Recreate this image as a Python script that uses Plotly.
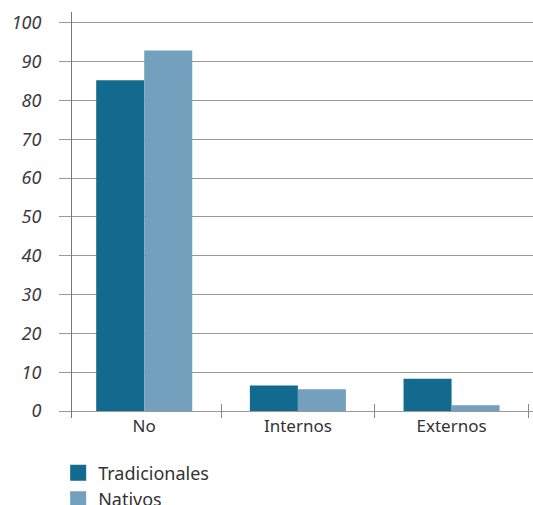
import plotly.graph_objects as go

categories = ["No", "Internos", "Externos"]
series_names = ["Tradicionales", "Nativos"]
tradicionales = [85.2, 6.6, 8.3]
nativos = [92.9, 5.6, 1.5]
y_ticks = [0, 10, 20, 30, 40, 50, 60, 70, 80, 90, 100]

colors = ["#126a8e", "#73a0bc"]
font_family = "Noto Sans"

fig = go.Figure()
for name, vals, col in zip(series_names, [tradicionales, nativos], colors):
    fig.add_trace(go.Bar(x=categories, y=vals, name=name, showlegend=False,
                         marker=dict(color=col, line=dict(width=0))))
# legend entries with larger square swatches
for name, col in zip(series_names, colors):
    fig.add_trace(go.Scatter(x=[None], y=[None], mode="markers", name=name,
                             marker=dict(symbol="square", size=16, color=col)))

fig.update_layout(
    width=533, height=505,
    margin=dict(l=72, r=0, t=12, b=87, autoexpand=False),
    paper_bgcolor="white", plot_bgcolor="white",
    barmode="group", bargap=0.375, bargroupgap=0,
    font=dict(family=font_family, size=17, color="#333333"),
    showlegend=True,
    legend=dict(orientation="v", x=-0.03, xanchor="left", y=-0.09, yanchor="top",
                font=dict(size=18, color="#333333"), tracegroupgap=0, itemwidth=30,
                bgcolor="rgba(0,0,0,0)"),
)
fig.update_xaxes(
    range=[-0.47, 2.53], showgrid=False, showline=False, zeroline=False,
    ticks="inside", tickson="boundaries", ticklen=14, tickcolor="#888888", tickwidth=1,
    ticklabelstandoff=-4,
    tickfont=dict(size=17, color="#333333"),
)
fig.update_yaxes(
    range=[-1.8, 102.8], tickvals=y_ticks, showgrid=True, gridcolor="#999999", gridwidth=1,
    zeroline=False, showline=True, linecolor="#777777", linewidth=1,
    ticks="outside", ticklen=12, tickcolor="#999999", ticklabelstandoff=14,
    tickfont=dict(size=18, color="#3a3a3a", style="italic"),
)

fig.write_html("out.html", config={"displayModeBar": False},
               post_script="document.body.style.margin='0';document.body.style.overflow='hidden';")
